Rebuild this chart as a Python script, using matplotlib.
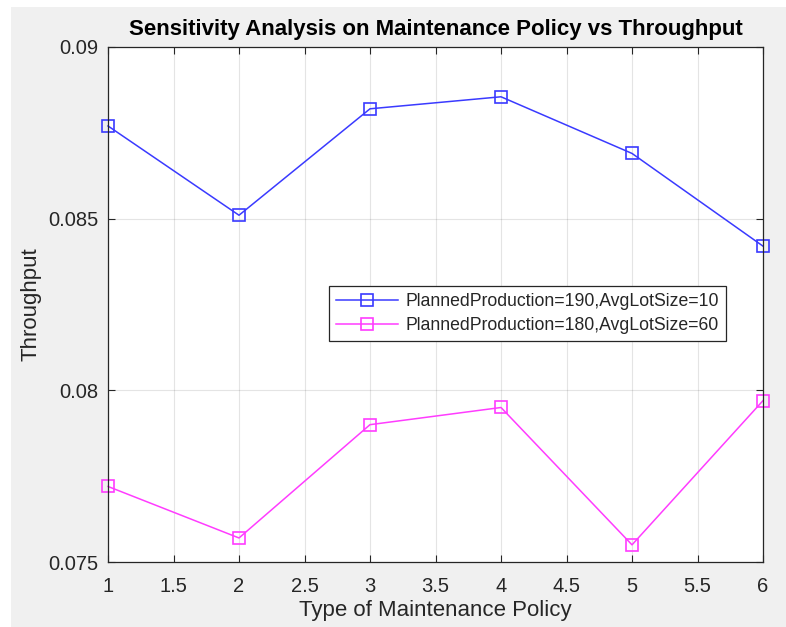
import matplotlib.pyplot as plt
from matplotlib.patches import Rectangle

plt.rcParams['font.family'] = ['Liberation Sans', 'DejaVu Sans']

policy = [1, 2, 3, 4, 5, 6]
thr_190_10 = [0.0877, 0.0851, 0.0882, 0.08855, 0.0869, 0.0842]
thr_180_60 = [0.0772, 0.0757, 0.0790, 0.0795, 0.0755, 0.0797]
label_a = 'PlannedProduction=190,AvgLotSize=10'
label_b = 'PlannedProduction=180,AvgLotSize=60'
xticks = [1, 1.5, 2, 2.5, 3, 3.5, 4, 4.5, 5, 5.5, 6]
yticks = [0.075, 0.08, 0.085, 0.09]

txt = '#262626'

fig = plt.figure(figsize=(7.86, 6.27), dpi=100, facecolor='white')
# grey matlab-style figure background (screenshot has a thin white margin)
fig.patches.append(Rectangle((11 / 786, 0), 1 - 11 / 786, 1 - 7 / 627,
                             transform=fig.transFigure, facecolor='#f0f0f0',
                             edgecolor='none', zorder=-1))
ax = fig.add_axes([108 / 786, 1 - 562 / 627, 655 / 786, 515 / 627])
ax.set_facecolor('white')

ax.plot(policy, thr_190_10, color='#3a3aff', lw=1.1, marker='s', ms=8,
        mfc='none', mec='#3a3aff', mew=1.2, label=label_a, clip_on=False)
ax.plot(policy, thr_180_60, color='#ff3cff', lw=1.1, marker='s', ms=8,
        mfc='none', mec='#ff3cff', mew=1.2, label=label_b, clip_on=False)

ax.set_xlim(1, 6)
ax.set_ylim(0.075, 0.09)
ax.set_xticks(xticks)
ax.set_xticklabels(['1', '1.5', '2', '2.5', '3', '3.5', '4', '4.5', '5', '5.5', '6'])
ax.set_yticks(yticks)
ax.set_yticklabels(['0.075', '0.08', '0.085', '0.09'])
ax.grid(True, color='#262626', alpha=0.12, lw=0.8)
ax.tick_params(direction='in', top=True, right=True, length=5, width=0.8,
               colors=txt, labelsize=14.5)
ax.tick_params(axis='x', pad=11)
ax.tick_params(axis='y', pad=7)
for s in ax.spines.values():
    s.set_color(txt)
    s.set_linewidth(0.9)

ax.set_title('Sensitivity Analysis on Maintenance Policy vs Throughput',
             fontsize=16, fontweight='bold', color='black', pad=9)
ax.set_xlabel('Type of Maintenance Policy', fontsize=16, color=txt, labelpad=3)
ax.set_ylabel('Throughput', fontsize=16, color=txt, labelpad=5)

leg = ax.legend(loc='upper left', bbox_to_anchor=(0.3374, 0.5365),
                borderaxespad=0, fontsize=12.7, fancybox=False, framealpha=1,
                edgecolor=txt, handlelength=3.5, handletextpad=0.4,
                borderpad=0.42, labelspacing=0.38)
leg.get_frame().set_linewidth(0.9)
for t in leg.get_texts():
    t.set_color(txt)

fig.savefig('out.png', dpi=100, facecolor=fig.get_facecolor())
